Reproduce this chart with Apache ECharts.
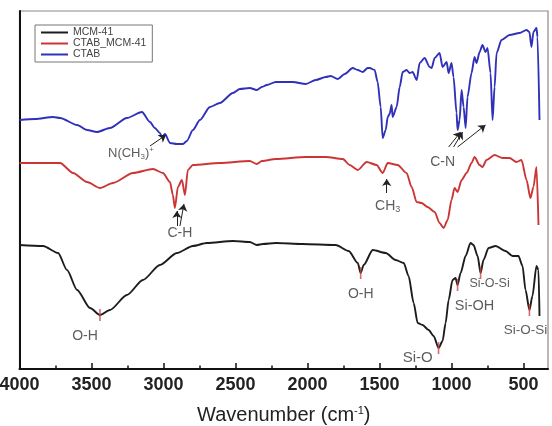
<!DOCTYPE html>
<html>
<head>
<meta charset="utf-8">
<script src="https://cdn.jsdelivr.net/npm/echarts@6/dist/echarts.min.js"></script>
<style>
html,body{margin:0;padding:0;background:#fff;}
#chart{width:552px;height:426px;}
</style>
</head>
<body>
<div id="chart"></div>
<script>
// ---- data (wavenumber in cm-1, transmittance in arbitrary units) ----
const seriesNames = ['MCM-41', 'CTAB_MCM-41', 'CTAB'];
const majorTicks = [4000, 3500, 3000, 2500, 2000, 1500, 1000, 500];
const minorTicks = [3750, 3250, 2750, 2250, 1750, 1250, 750];

const mcmX = [4000,3836,3732,3670,3600,3510,3441,3372,3254,3143,3025,2907,2796,2699,2518,2401,2352,2310,2220,2033,1804,1714,1651,1631,1610,1547,1457,1388,1332,1298,1263,1235,1201,1159,1124,1090,1062,1041,1020,993,972,958,937,902,868,847,819,798,778,743,694,625,576,535,507,486,459,438,410,396,389];
const mcmY = [124,123,116,99,79,61,54,59,74,89,104,116,123,126,128,127,124,125,126,125,124,118,106,96,104,119,116,109,106,93,66,46,44,39,33,21,28,46,69,89,91,84,96,113,126,124,113,96,109,121,123,118,113,113,103,79,59,73,103,99,53];

const ctabMcmX = [4000,3718,3628,3531,3441,3351,3212,3073,3004,2955,2935,2921,2900,2872,2851,2831,2796,2609,2401,2352,2317,2220,2012,1873,1755,1707,1651,1589,1520,1478,1443,1374,1312,1277,1242,1208,1166,1117,1083,1055,1027,1000,979,958,930,895,861,840,805,785,757,701,646,597,549,514,479,452,431,410,396];
const ctabMcmY = [206,206,196,187,181,186,196,200,196,187,174,161,182,189,174,199,204,206,208,205,208,210,212,212,210,204,199,207,204,196,206,204,196,182,167,166,162,157,146,141,149,169,181,177,189,196,206,212,204,202,209,214,211,211,207,209,189,171,182,202,144];

const ctabX = [4000,3892,3767,3718,3600,3531,3462,3372,3254,3150,3094,3060,3025,3011,2990,2955,2907,2865,2838,2796,2747,2678,2609,2518,2470,2401,2352,2317,2283,2220,2102,2012,1943,1873,1839,1790,1742,1686,1651,1617,1582,1568,1534,1513,1492,1478,1457,1443,1430,1416,1409,1381,1360,1339,1312,1291,1270,1242,1221,1187,1152,1138,1117,1083,1062,1034,1020,1000,986,965,958,944,930,916,902,889,861,840,826,805,785,764,750,729,715,701,687,653,597,528,479,459,445,431,410,403,389];
const ctabY = [249,250,252,251,244,239,237,241,251,257,247,241,236,232,235,226,225,225,228,239,249,262,266,276,280,281,279,282,284,287,287,285,289,292,293,290,295,301,299,297,301,301,299,287,262,231,239,252,255,264,252,262,282,297,299,296,297,289,306,311,302,301,311,316,302,307,296,306,292,256,239,249,279,262,241,272,296,312,306,317,324,317,321,296,249,282,316,329,334,336,339,337,322,337,341,332,249];

// band labels: [wavenumber, value, text, fontSize]
const bandLabels = [
  [3545, 33, 'O-H', 14],
  [1630, 75, 'O-H', 14],
  [1235, 11, 'Si-O', 15],
  [840, 63, 'Si-OH', 14.5],
  [736, 85, 'Si-O-Si', 12.5],
  [486, 39, 'Si-O-Si', 13.5],
  [2886, 136, 'C-H', 14],
  [1062, 207, 'C-N', 14]
];
const richLabels = [
  [3226, 216, '{n|N(CH}{s|3}{n|)}{p|+}'],
  [1443, 163, '{c|CH}{t|3}']
];
// red markers at MCM-41 band minima: [wavenumber, value]
const bandMarks = [[3441, 54], [1631, 96], [1090, 21], [958, 84], [798, 96], [459, 59]];
// arrows: [x1, y1, x2, y2]
const arrows = [
  [3094, 223, 2983, 234],
  [2907, 143, 2907, 158],
  [2886, 143, 2858, 165],
  [1450, 176, 1450, 190],
  [1020, 222, 937, 237],
  [986, 222, 923, 237],
  [958, 222, 764, 244]
];

const zip = (xs, ys) => xs.map((x, i) => [x, ys[i]]);
const colors = ['#1c1c1c', '#cc3535', '#3030b8'];
const font = 'Liberation Sans, Arial, sans-serif';

const chart = echarts.init(document.getElementById('chart'));
const lineSeries = [
  zip(mcmX, mcmY), zip(ctabMcmX, ctabMcmY), zip(ctabX, ctabY)
].map((d, i) => ({
  name: seriesNames[i], type: 'line', data: d, showSymbol: false,
  smooth: 0.25, smoothMonotone: 'x',
  lineStyle: {color: colors[i], width: 1.9}, itemStyle: {color: colors[i]},
  z: 3
}));

chart.setOption({
  animation: false,
  backgroundColor: '#fff',
  grid: {left: 19.5, right: 4, top: 11, bottom: 57, show: true, borderColor: '#8a8a8a', borderWidth: 1.2,
         containLabel: false, outerBoundsMode: 'none'},
  legend: {
    data: seriesNames, orient: 'vertical', left: 35, top: 25,
    padding: [2, 6, 2, 6], itemGap: 0, itemWidth: 27, itemHeight: 2, icon: 'rect',
    borderColor: '#777', borderWidth: 1,
    textStyle: {fontFamily: font, fontSize: 10.5, color: '#444', lineHeight: 11}
  },
  xAxis: [{
    type: 'value', inverse: true, min: 330, max: 4000, position: 'bottom',
    axisLine: {show: true, lineStyle: {color: '#111', width: 2}},
    axisTick: {show: true, inside: true, length: 6, lineStyle: {color: '#111', width: 1.5}, customValues: majorTicks},
    axisLabel: {customValues: majorTicks, formatter: v => String(v), fontFamily: font, fontSize: 18, fontWeight: 'bold', color: '#222', margin: 7},
    splitLine: {show: false},
    name: '{a|Wavenumber (cm}{b|-1}{a|)}', nameLocation: 'middle', nameGap: 36,
    nameTextStyle: {rich: {
      a: {fontFamily: font, fontSize: 20, color: '#222'},
      b: {fontFamily: font, fontSize: 11, color: '#222', padding: [0, 0, 9, 0]}
    }}
  }, {
    type: 'value', inverse: true, min: 330, max: 4000, position: 'bottom',
    axisLine: {show: false},
    axisTick: {show: true, inside: true, length: 3.5, lineStyle: {color: '#111', width: 1.5}, customValues: minorTicks},
    axisLabel: {show: false}, splitLine: {show: false}
  }],
  yAxis: {
    type: 'value', min: 0, max: 358,
    axisLine: {show: true, lineStyle: {color: '#111', width: 2}},
    axisTick: {show: false}, axisLabel: {show: false}, splitLine: {show: false}
  },
  series: lineSeries.concat([
    {
      name: 'marks', type: 'scatter', data: bandMarks, symbol: 'rect', symbolSize: [1.6, 12],
      itemStyle: {color: '#d04545'}, z: 4, silent: true
    },
    {
      name: 'bands', type: 'scatter', symbolSize: 0, silent: true, z: 5,
      data: bandLabels.map(b => ({value: [b[0], b[1]], label: {fontSize: b[3]}, name: b[2]})),
      label: {show: true, position: 'inside', formatter: p => p.name, fontFamily: font, color: '#333'},
      markLine: {
        silent: true, symbol: ['none', 'arrow'], symbolSize: 7, label: {show: false},
        lineStyle: {color: '#222', width: 1, type: 'solid'},
        data: arrows.map(a => [{coord: [a[0], a[1]]}, {coord: [a[2], a[3]]}])
      }
    },
    {
      name: 'richbands', type: 'scatter', symbolSize: 0, silent: true, z: 5,
      data: richLabels.map(b => ({value: [b[0], b[1]], name: b[2]})),
      label: {show: true, position: 'inside', formatter: p => p.name, rich: {
        n: {fontFamily: font, fontSize: 13, color: '#333'},
        s: {fontFamily: font, fontSize: 8, color: '#333', padding: [7, 0, 0, 0]},
        p: {fontFamily: font, fontSize: 8, color: '#333', padding: [0, 0, 7, 0]},
        c: {fontFamily: font, fontSize: 14, color: '#333'},
        t: {fontFamily: font, fontSize: 9, color: '#333', padding: [8, 0, 0, 0]}
      }}
    }
  ])
});
</script>
</body>
</html>
